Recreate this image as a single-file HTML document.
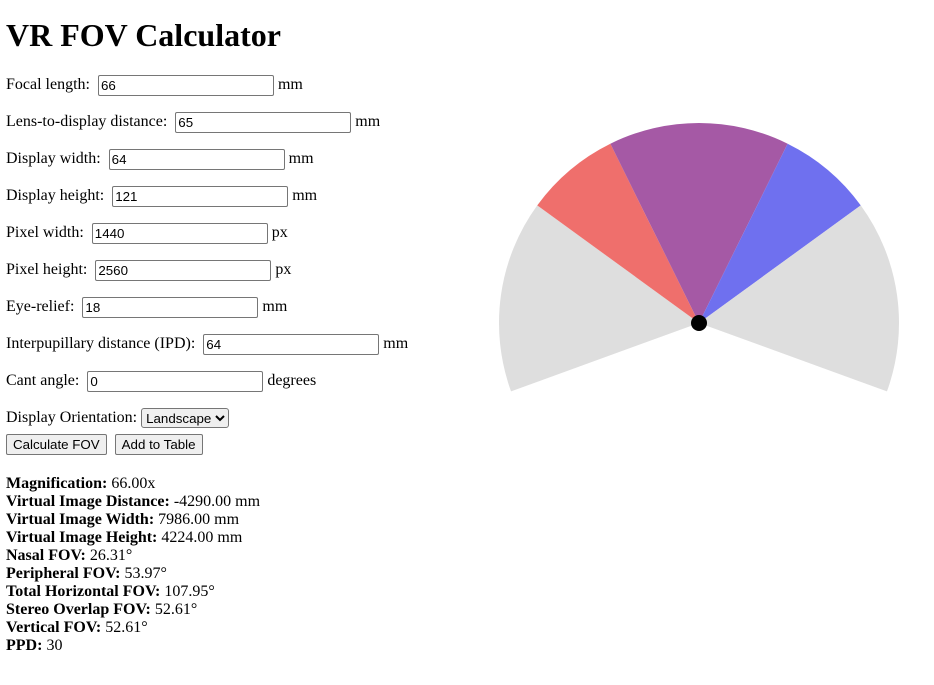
<!DOCTYPE html>
<html><head><meta charset="utf-8"><style>
body{margin:0;padding:0 8px 0 6px;font-family:"Liberation Serif",serif;font-size:16px;color:#000;background:#fff;width:920px;height:668px;overflow:hidden;position:relative}
h1{font-size:32px;margin:17px 0 20px;line-height:37px}
p.row{margin:16px 0;height:21px;line-height:21px;white-space:nowrap}
p.row:first-of-type{margin-top:0}
input[type=text]{font-family:"Liberation Sans",sans-serif;font-size:13.33px;width:170px;height:17px;padding:1px 2px;border:1px solid #767676;border-radius:2px;margin:0 4px;vertical-align:middle}
select{font-family:"Liberation Sans",sans-serif;font-size:13.33px;height:20px;border:1px solid #767676;border-radius:3px;vertical-align:middle}
button{font-family:"Liberation Sans",sans-serif;font-size:13.33px;height:21px;padding:1px 6px;border:1px solid #767676;border-radius:2px;background:#efefef;margin-right:4px}
#results{margin-top:20px;line-height:18px}
svg{position:absolute;left:490px;top:93px}
</style></head><body>
<h1>VR FOV Calculator</h1>
<p class="row">Focal length: <input type="text" value="66">mm</p>
<p class="row">Lens-to-display distance: <input type="text" value="65">mm</p>
<p class="row">Display width: <input type="text" value="64">mm</p>
<p class="row">Display height: <input type="text" value="121">mm</p>
<p class="row">Pixel width: <input type="text" value="1440">px</p>
<p class="row">Pixel height: <input type="text" value="2560">px</p>
<p class="row">Eye-relief: <input type="text" value="18">mm</p>
<p class="row">Interpupillary distance (IPD): <input type="text" value="64">mm</p>
<p class="row">Cant angle: <input type="text" value="0">degrees</p>
<p class="row" style="margin-bottom:6px">Display Orientation: <select><option>Landscape</option></select></p>
<div><button>Calculate FOV</button> <button>Add to Table</button></div>
<div id="results">
<div><b>Magnification:</b> 66.00x</div>
<div><b>Virtual Image Distance:</b> -4290.00 mm</div>
<div><b>Virtual Image Width:</b> 7986.00 mm</div>
<div><b>Virtual Image Height:</b> 4224.00 mm</div>
<div><b>Nasal FOV:</b> 26.31°</div>
<div><b>Peripheral FOV:</b> 53.97°</div>
<div><b>Total Horizontal FOV:</b> 107.95°</div>
<div><b>Stereo Overlap FOV:</b> 52.61°</div>
<div><b>Vertical FOV:</b> 52.61°</div>
<div><b>PPD:</b> 30</div>
</div>
<svg id="fov" width="420" height="300"></svg>
<script>
const sliceNames=["left-peripheral","left-eye-only","stereo-overlap","right-eye-only","right-peripheral"];
const sliceStart=[-110,-53.97,-26.31,26.31,53.97];
const sliceEnd=[-53.97,-26.31,26.31,53.97,110];
const sliceColors=["#dedede","#ef6f6c","#a559a5","#6f70ef","#dedede"];
const svg=document.getElementById('fov');
const NS='http://www.w3.org/2000/svg';
const cx=209,cy=213,R=200;
function pt(a){const r=a*Math.PI/180;return [cx+R*Math.sin(r),cy-R*Math.cos(r)];}
for(let i=0;i<sliceStart.length;i++){
  const p1=pt(sliceStart[i]),p2=pt(sliceEnd[i]);
  const large=(sliceEnd[i]-sliceStart[i])>180?1:0;
  const path=document.createElementNS(NS,'path');
  path.setAttribute('d',`M${cx},${cy}L${p1[0]},${p1[1]}A${R},${R} 0 ${large} 1 ${p2[0]},${p2[1]}Z`);
  path.setAttribute('fill',sliceColors[i]);
  
  
  svg.appendChild(path);
}
const dot=document.createElementNS(NS,'circle');
dot.setAttribute('cx',cx);dot.setAttribute('cy',cy);dot.setAttribute('r',8);dot.setAttribute('fill','#000');


svg.appendChild(dot);
</script>
</body></html>
